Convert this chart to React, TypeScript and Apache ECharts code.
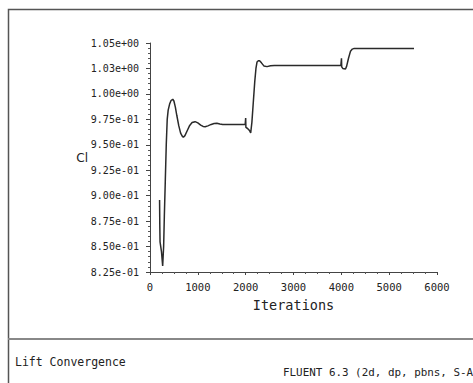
import React, { useEffect, useRef } from "react";
import * as echarts from "echarts";

// Lift coefficient history (iteration, Cl)
const iterations = [
  200, 205, 210, 240, 265, 272, 285, 300, 320, 340, 360, 380, 410, 440, 476,
  500, 530, 560, 600, 640, 680, 698, 730, 780, 830, 880, 943, 1000, 1060,
  1110, 1153, 1210, 1280, 1340, 1398, 1460, 1520, 1990, 2000, 2005, 2040,
  2080, 2105, 2130, 2160, 2190, 2215, 2237, 2265, 2291, 2330, 2380, 2446,
  2520, 2600, 3990, 4003, 4008, 4030, 4087, 4110, 4150, 4192, 4230, 4270,
  4339, 5519,
];
const liftCoefficient = [
  0.8957, 0.87, 0.8545, 0.845, 0.8309, 0.8315, 0.85, 0.88, 0.915, 0.95,
  0.975, 0.984, 0.99, 0.9935, 0.9947, 0.993, 0.987, 0.979, 0.969, 0.9615,
  0.958, 0.9574, 0.959, 0.964, 0.969, 0.9718, 0.9727, 0.9715, 0.9694, 0.968,
  0.9678, 0.9686, 0.97, 0.9709, 0.9711, 0.9704, 0.9699, 0.9699, 0.9763,
  0.967, 0.966, 0.964, 0.9616, 0.972, 0.992, 1.012, 1.025, 1.0313, 1.0326,
  1.0326, 1.0305, 1.0275, 1.0268, 1.0276, 1.0279, 1.0279, 1.035, 1.0265,
  1.025, 1.0245, 1.027, 1.035, 1.042, 1.044, 1.0447, 1.0446, 1.0446,
];

const plotTitle = "Lift Convergence";
const solverInfo = "FLUENT 6.3 (2d, dp, pbns, S-A";

// Fluent-style exponent labels, e.g. 9.75e-01
function sciLabel(v: number): string {
  if (v === 0) return "0.00e+00";
  let exp = Math.floor(Math.log10(Math.abs(v)) + 1e-9);
  let mant = Math.round(v * Math.pow(10, -exp) * 100 + 1e-6) / 100;
  if (mant >= 10) {
    mant /= 10;
    exp += 1;
  }
  const sign = exp < 0 ? "-" : "+";
  const e = String(Math.abs(exp)).padStart(2, "0");
  return `${mant.toFixed(2)}e${sign}${e}`;
}

const MONO = "DejaVu Sans Mono";

export default function App() {
  const ref = useRef<HTMLDivElement>(null);

  useEffect(() => {
    if (!ref.current) return;
    const chart = echarts.init(ref.current, undefined, { renderer: "svg" });
    const points = iterations.map((it, i) => [it, liftCoefficient[i]]);

    chart.setOption({
      animation: false,
      backgroundColor: "#ffffff",
      grid: { left: 150, right: 36, top: 43, bottom: 111 },
      xAxis: {
        type: "value",
        min: 0,
        max: 6000,
        interval: 1000,
        name: "Iterations",
        nameLocation: "middle",
        nameGap: 26,
        nameMoveOverlap: false,
        nameTextStyle: { fontFamily: MONO, fontSize: 13.5, color: "#222" },
        axisLine: { lineStyle: { color: "#444", width: 1 } },
        axisTick: { show: true, length: 3, lineStyle: { color: "#444" } },
        minorTick: { show: true, splitNumber: 4, length: 2, lineStyle: { color: "#555" } },
        splitLine: { show: false },
        axisLabel: {
          fontFamily: MONO,
          fontSize: 10.5,
          color: "#222",
          margin: 9,
          formatter: (v: number) => String(v),
        },
      },
      yAxis: {
        type: "value",
        min: 0.825,
        max: 1.05,
        interval: 0.025,
        name: "Cl",
        nameLocation: "middle",
        nameRotate: 0,
        nameGap: 62,
        nameMoveOverlap: false,
        nameTextStyle: { fontFamily: "DejaVu Sans", fontSize: 12, color: "#222" },
        axisLine: { show: true, lineStyle: { color: "#444", width: 1 } },
        axisTick: { show: true, length: 4, lineStyle: { color: "#444" } },
        minorTick: { show: true, splitNumber: 5, length: 2, lineStyle: { color: "#555" } },
        splitLine: { show: false },
        axisLabel: {
          fontFamily: MONO,
          fontSize: 10,
          color: "#222",
          margin: 11,
          formatter: (v: number) => sciLabel(v),
        },
      },
      series: [
        {
          type: "line",
          data: points,
          showSymbol: false,
          lineStyle: { color: "#2a2a2a", width: 1.5 },
        },
      ],
      graphic: [
        {
          type: "rect",
          shape: { x: 8.5, y: 9.5, width: 470, height: 380 },
          style: { fill: "none", stroke: "#555", lineWidth: 1.5 },
          silent: true,
        },
        {
          type: "line",
          shape: { x1: 8, y1: 339, x2: 473, y2: 339 },
          style: { stroke: "#888", lineWidth: 2 },
          silent: true,
        },
        {
          type: "text",
          x: 15,
          y: 362,
          style: {
            text: plotTitle,
            fontFamily: MONO,
            fontSize: 11.5,
            fill: "#222",
            verticalAlign: "middle",
          },
        },
        {
          type: "text",
          x: 283,
          y: 372,
          style: {
            text: solverInfo,
            fontFamily: MONO,
            fontSize: 10.9,
            fill: "#222",
            verticalAlign: "middle",
          },
        },
      ],
    });

    return () => chart.dispose();
  }, []);

  return (
    <div
      ref={ref}
      style={{ position: "absolute", left: 0, top: 0, width: 473, height: 383 }}
    />
  );
}
